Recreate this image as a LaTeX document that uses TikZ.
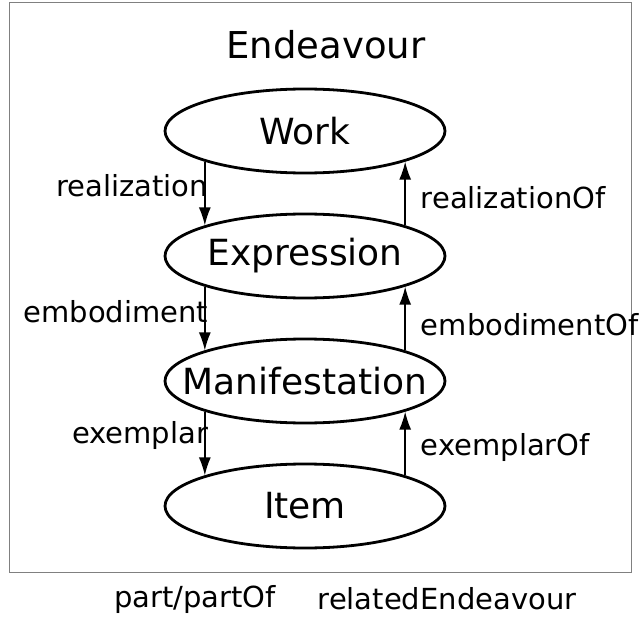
\documentclass[tikz,border=0pt]{standalone}
\usepackage{fontspec}
\setmainfont{DejaVu Sans}
\usetikzlibrary{shapes,positioning,arrows.meta}

\begin{document}
\begin{tikzpicture}[
		x=1pt, y=-1pt,
		node distance = 125pt,
		auto,
		entity/.style={
			ellipse,
			draw,
			line width=2.8pt,
			minimum width=280pt,
			minimum height=84pt,
			inner xsep=-40pt,
			inner ysep=0pt,
			font=\fontsize{36}{40}\selectfont
			},
		rel/.style={
			inner sep=0pt,
			font=\fontsize{29}{34}\selectfont
			},
		frame/.style={
			draw=gray,
			line width=1pt
			},
		line/.style={
			draw,
			line width=1.5pt,
			-{Latex[length=18pt,width=12pt]}
			}]
	    \useasboundingbox (0,0) rectangle (643,618);
	    \draw [frame] (9,3) rectangle (631,572);

	    % Place nodes
	    \node [font=\fontsize{37}{42}\selectfont] (endeavour) at (326,45) {Endeavour};
	    \node [entity] (work) at (305,131) {Work};
	    \node [entity, below of=work] (expression) {Expression};
	    \node [entity, below of=expression] (manifestation) {Manifestation};
	    \node [entity, below of=manifestation] (item) {Item};
	    \node [rel] (part) at (195,599) {part/partOf};
	    \node [rel] (related) at (447,599) {relatedEndeavour};

	    % Draw edges
	    \path [line] (work.197) -- node [rel, pos=0.37, left=-4pt] {realization} (expression.163);
	    \path [line] (expression.17) -- node [rel, pos=0.44, right=15pt] {realizationOf} (work.343);
	    \path [line] (expression.197) -- node [rel, pos=0.4, left=-4pt] {embodiment} (manifestation.163);
	    \path [line] (manifestation.17) -- node [rel, pos=0.4, right=15pt] {embodimentOf} (expression.343);
	    \path [line] (manifestation.197) -- node [rel, pos=0.37, left=-4pt] {exemplar} (item.163);
	    \path [line] (item.17) -- node [rel, pos=0.43, right=15pt] {exemplarOf} (manifestation.343);
	\end{tikzpicture}
\end{document}
